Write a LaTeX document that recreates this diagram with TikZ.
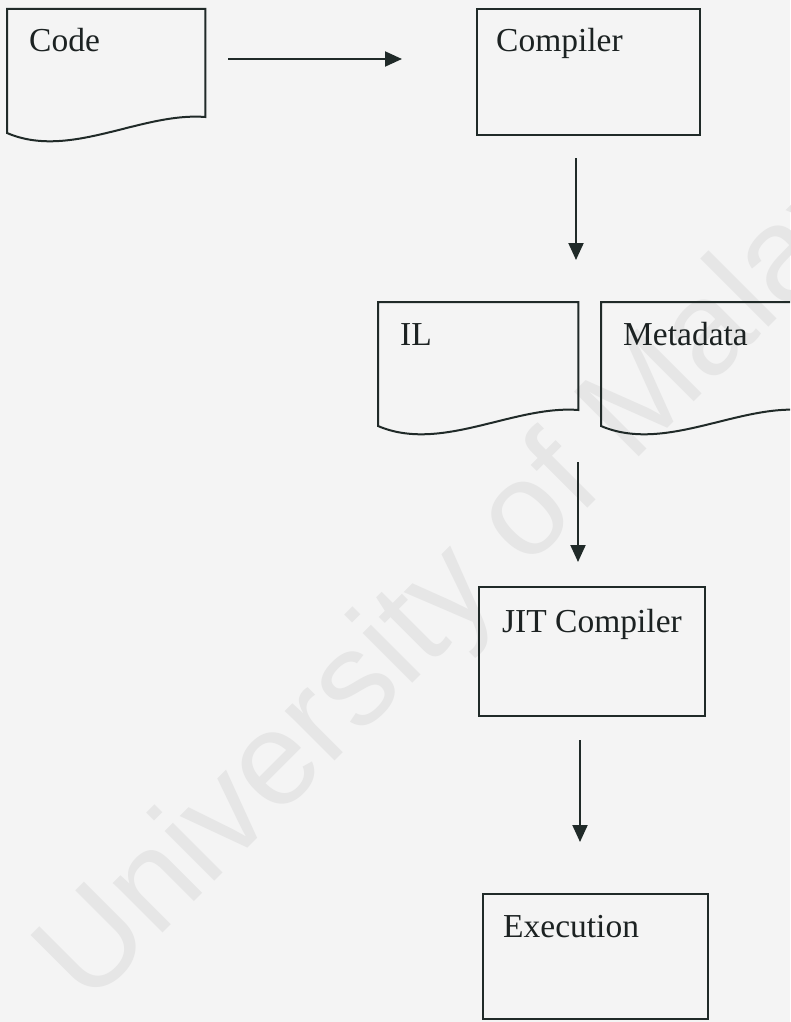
\documentclass[tikz,border=0pt]{standalone}
\usepackage{fontspec}
\setmainfont{Liberation Serif}
\newfontfamily\wmfont{Liberation Sans}
\usetikzlibrary{arrows.meta,calc}
\definecolor{bgc}{RGB}{244,244,244}
\definecolor{inkc}{RGB}{32,42,40}
\definecolor{txtc}{RGB}{28,34,34}
\definecolor{wmc}{RGB}{230,230,230}
\tikzset{
  x=1pt, y=-1pt,
  boxnode/.style={draw=inkc, line width=2pt, rectangle, inner sep=0pt, anchor=north west},
  docnode/.style={draw=none, rectangle, inner sep=0pt, anchor=north west, minimum width=198pt, minimum height=135pt},
  docline/.style={draw=inkc, line width=2pt, line join=miter},
  lbl/.style={anchor=base west, inner sep=0pt, text=txtc, font=\fontsize{33.5}{40}\selectfont},
  arr/.style={draw=inkc, line width=2pt, -{Triangle[length=17pt,width=15pt]}},
  wm/.style={anchor=base west, inner sep=0pt, text=wmc, font=\wmfont\fontsize{133}{150}\selectfont}
}
\newcommand\docpath[1]{%
  \path[docline] (#1.north west) -- (#1.north east) -- ($(#1.north east)+(0,108)$)
    .. controls +(-65,-5) and +(63,27) .. ($(#1.north west)+(0,124)$) -- cycle;}
\begin{document}
\begin{tikzpicture}
\useasboundingbox (0,0) rectangle (790,1022);
\clip (0,0) rectangle (790,1022);
\fill[bgc] (0,0) rectangle (790,1022);
\node[wm, rotate=45] (wmark) at (88,1008) {University of Malaya};

% documents
\node[docnode] (code) at (7,9) {};
\docpath{code}
\node[lbl] (codet) at (29,52) {Code};

\node[docnode, minimum width=200pt] (il) at (378,302) {};
\docpath{il}
\node[lbl] (ilt) at (400,345) {IL};

\node[docnode, minimum width=200pt] (meta) at (601,302) {};
\docpath{meta}
\node[lbl] (metat) at (623,345) {Metadata};

% boxes
\node[boxnode, minimum width=223pt, minimum height=126pt] (comp) at (476,8) {};
\node[lbl] (compt) at (496,52) {Compiler};

\node[boxnode, minimum width=226pt, minimum height=129pt] (jit) at (478,586) {};
\node[lbl] (jitt) at (502,632) {JIT Compiler};

\node[boxnode, minimum width=225pt, minimum height=125pt] (exec) at (482,893) {};
\node[lbl] (exect) at (503,937) {Execution};

% arrows
\coordinate (h1) at (228,59);
\coordinate (h2) at (402,59);
\coordinate (v1a) at (576,158);
\coordinate (v1b) at (576,260);
\coordinate (v2a) at (578,462);
\coordinate (v2b) at (578,562);
\coordinate (v3a) at (580,740);
\coordinate (v3b) at (580,842);
\draw[arr] (h1) -- (h2);
\draw[arr] (v1a) -- (v1b);
\draw[arr] (v2a) -- (v2b);
\draw[arr] (v3a) -- (v3b);
\end{tikzpicture}
\end{document}
